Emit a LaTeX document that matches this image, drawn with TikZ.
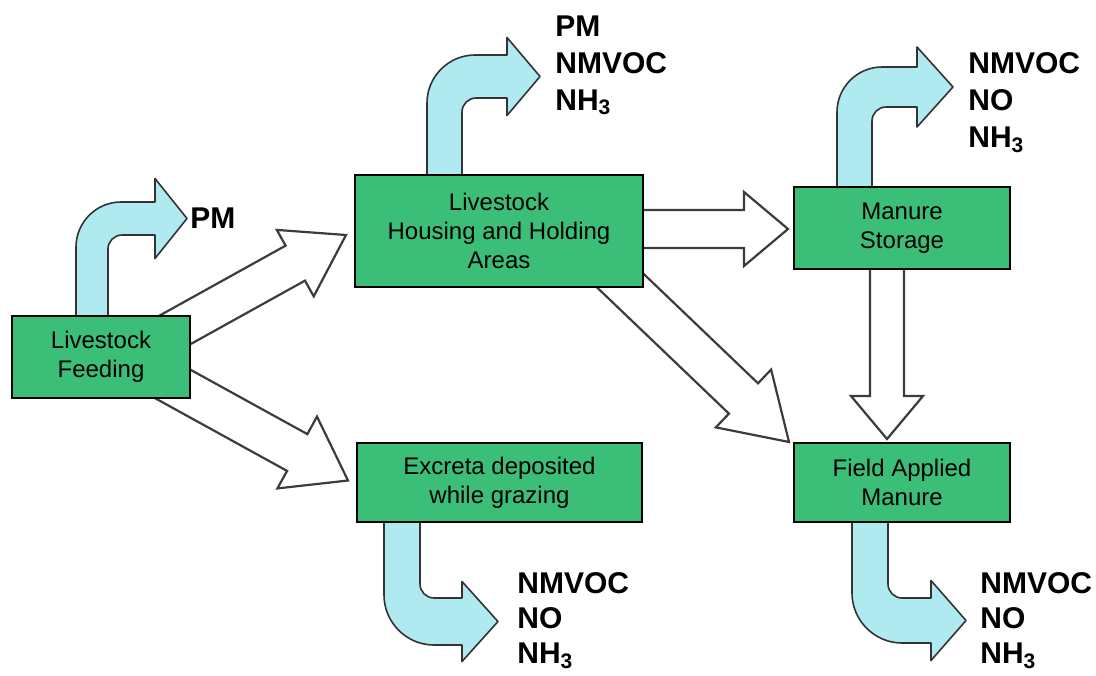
\documentclass[tikz,border=0pt]{standalone}
\usepackage{fontspec}
\setmainfont{Liberation Sans}
\usetikzlibrary{calc,backgrounds}
\definecolor{boxgreen}{RGB}{59,191,120}
\definecolor{gasblue}{RGB}{174,234,240}
\definecolor{flowgray}{RGB}{60,60,60}
\tikzset{
  stage/.style={draw=black, line width=1pt, fill=boxgreen, align=center, inner sep=1pt,
    font={\fontsize{12}{14.5}\selectfont}},
  gas/.style={anchor=north west, align=left, inner sep=0pt,
    font={\fontsize{15}{18.5}\selectfont\bfseries}},
  lowgas/.style={gas, font={\fontsize{15}{17.5}\selectfont\bfseries}},
  gasarrow/.style={draw=black!80, fill=gasblue, line width=0.8pt, line join=round},
  flowarrow/.style={draw=flowgray, fill=white, line width=1.1pt, line join=miter},
}
% bent emission arrow: stem left, stem right, stem base, outer edge, inner edge,
% head base, tip, head half height, outer radius
\newcommand\emission[9]{%
  \pgfmathsetmacro\emsg{sign(#5-#4)}%
  \pgfmathsetmacro\emmid{(#4+#5)/2}%
  \filldraw[gasarrow] (#1,#3) -- (#1,{#4+\emsg*#9})
    .. controls +(0,{-0.55*\emsg*#9}) and +({-0.55*#9},0) .. ({#1+#9},#4)
    -- (#6,#4) -- (#6,{\emmid-\emsg*#8}) -- (#7,\emmid) -- (#6,{\emmid+\emsg*#8})
    -- (#6,#5) -- ({#2+14},#5)
    .. controls +(-7.7,0) and +(0,{-7.7*\emsg}) .. (#2,{#5+14*\emsg})
    -- (#2,#3) -- cycle;}
% hollow block arrow: from, to, shaft half width, head half width, head length
\newcommand\flow[5]{%
  \coordinate (hb) at ($(#2)!#5*0.5pt!(#1)$);
  \coordinate (tl) at ($(#1)!-25pt!(#2)$);
  \filldraw[flowarrow] ($(tl)!#3*0.5pt!90:(#2)$) -- ($(hb)!#3*0.5pt!-90:(#1)$)
    -- ($(hb)!#4*0.5pt!-90:(#1)$) -- (#2) -- ($(hb)!#4*0.5pt!90:(#1)$)
    -- ($(hb)!#3*0.5pt!90:(#1)$) -- ($(tl)!#3*0.5pt!-90:(#2)$) -- cycle;}

\begin{document}
\begin{tikzpicture}[x=0.5pt,y=-0.5pt]
  \useasboundingbox (0,0) rectangle (1096,675);
  \node[stage, minimum width=89pt, minimum height=41pt] (feed) at (101,357) {Livestock\\Feeding};
  \node[stage, minimum width=144pt, minimum height=56pt] (house) at (499,231)
    {Livestock\\Housing and Holding\\Areas};
  \node[stage, minimum width=108pt, minimum height=41pt] (store) at (902,228) {Manure\\Storage};
  \node[stage, minimum width=142.5pt, minimum height=39.5pt] (excreta) at (499.5,482.5)
    {Excreta deposited\\while grazing};
  \node[stage, minimum width=108pt, minimum height=39.5pt] (field) at (902,482.5) {Field Applied\\Manure};

  \coordinate (fh) at ($(feed.north east)+(0,6)$);
  \coordinate (fht) at ($(house.west)+(-8,4)$);
  \coordinate (fe) at ($(feed.south east)+(0,-5)$);
  \coordinate (fet) at ($(excreta.west)+(-8,-2)$);
  \coordinate (hs) at ($(house.east)+(0,-2)$);
  \coordinate (hst) at ($(store.west)+(-5,1)$);
  \coordinate (hf) at ($(house.south east)+(-16,0)$);
  \coordinate (hft) at ($(field.north west)+(-4,0)$);
  \coordinate (sf) at ($(store.south)+(-15,0)$);
  \coordinate (sft) at ($(field.north)+(-15,-3)$);

  \begin{pgfonlayer}{background}
    \flow{fh}{fht}{20}{38}{58}
    \flow{fe}{fet}{21}{41}{58}
    \flow{hs}{hst}{19}{37}{44}
    \flow{hf}{hft}{21}{40}{63}
    \flow{sf}{sft}{17}{36}{43}
    \emission{76}{108}{330}{202}{235}{155}{187}{40}{45}
    \emission{427}{462}{190}{55}{98}{507}{540}{39}{48}
    \emission{837}{872}{200}{67}{107}{917}{953}{40}{45}
    \emission{384}{420}{508}{645}{598}{462}{498}{40}{50}
    \emission{852}{888}{508}{643}{598}{931}{966}{40}{50}
  \end{pgfonlayer}

  \node[gas] (pmfeed) at (190,207) {PM};
  \node[gas] (gashouse) at (555,15) {PM\\NMVOC\\NH\textsubscript{3}};
  \node[gas] (gasstore) at (968,52) {NMVOC\\NO\\NH\textsubscript{3}};
  \node[lowgas] (gasexcreta) at (517,572) {NMVOC\\NO\\NH\textsubscript{3}};
  \node[lowgas] (gasfield) at (980,572) {NMVOC\\NO\\NH\textsubscript{3}};
\end{tikzpicture}
\end{document}
